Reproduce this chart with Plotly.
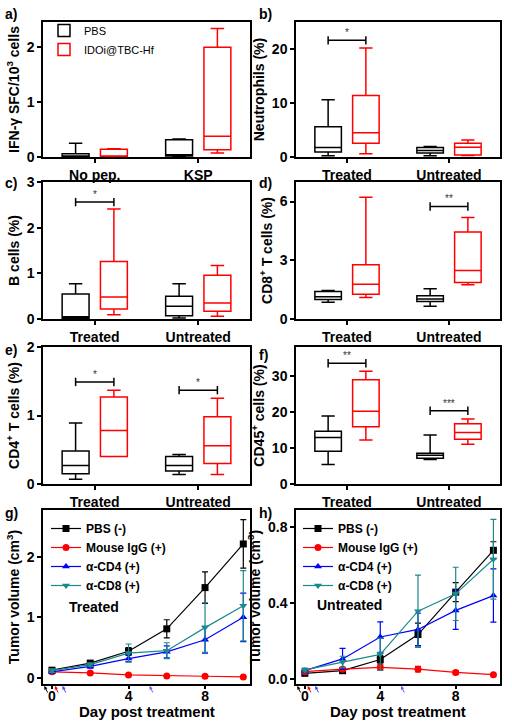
import plotly.graph_objects as go

W, H = 512, 723

# ---------------- data ----------------
groups_a = ["No pep.", "KSP"]
groups_tu = ["Treated", "Untreated"]
series_names = ["PBS", "IDOi@TBC-Hf"]

# box stats per group: [lower whisker, q1, median, q3, upper whisker]
a_pbs = [[0.0, 0.0, 0.0, 0.06, 0.25], [0.0, 0.02, 0.04, 0.315, 0.327]]
a_ido = [[0.0, 0.0, 0.0, 0.14, 0.15], [0.073, 0.133, 0.376, 1.99, 2.33]]

b_pbs = [[0.24, 0.91, 1.76, 5.6, 10.6], [0.24, 0.73, 1.2, 1.76, 1.95]]
b_ido = [[0.6, 2.55, 4.5, 11.4, 20.2], [0.3, 0.36, 1.82, 2.55, 3.16]]

c_pbs = [[0.0, 0.015, 0.05, 0.55, 0.77], [0.02, 0.07, 0.28, 0.5, 0.77]]
c_ido = [[0.095, 0.22, 0.48, 1.26, 2.41], [0.06, 0.17, 0.35, 0.96, 1.17]]

d_pbs = [[0.85, 0.99, 1.14, 1.41, 1.46], [0.65, 0.9, 1.02, 1.19, 1.55]]
d_ido = [[1.1, 1.27, 1.78, 2.77, 6.22], [1.75, 1.87, 2.48, 4.45, 5.18]]

e_pbs = [[0.07, 0.15, 0.27, 0.48, 0.89], [0.14, 0.19, 0.27, 0.4, 0.43]]
e_ido = [[0.4, 0.4, 0.78, 1.27, 1.37], [0.14, 0.3, 0.56, 0.98, 1.25]]

f_pbs = [[5.4, 9.1, 12.9, 14.6, 18.85], [6.8, 7.15, 8.0, 8.5, 13.6]]
f_ido = [[12.2, 15.9, 20.2, 28.9, 31.3], [11.0, 12.4, 14.3, 16.7, 18.0]]

# significance marks: (panel, group index, bracket level, text)
sig_panel = ["b", "c", "d", "e", "e", "f", "f"]
sig_group = [0, 0, 1, 0, 1, 0, 1]
sig_level = [21.6, 2.56, 5.75, 1.49, 1.37, 33.5, 20.3]
sig_text = ["*", "*", "**", "*", "*", "**", "***"]

# tumour growth
days = [0, 2, 4, 6, 8, 10]
line_names = ["PBS (-)", "Mouse IgG (+)", "α-CD4 (+)", "α-CD8 (+)"]

g_pbs = [0.128, 0.245, 0.44, 0.81, 1.49, 2.21]
g_pbs_err = [0.02, 0.02, 0.06, 0.15, 0.26, 0.40]
g_igg = [0.10, 0.083, 0.05, 0.033, 0.028, 0.017]
g_igg_err = [0.01, 0.01, 0.01, 0.01, 0.01, 0.005]
g_cd4 = [0.10, 0.19, 0.32, 0.43, 0.63, 1.0]
g_cd4_err = [0.02, 0.03, 0.05, 0.10, 0.22, 0.40]
g_cd8 = [0.12, 0.22, 0.41, 0.45, 0.83, 1.19]
g_cd8_err = [0.03, 0.03, 0.15, 0.13, 0.41, 0.58]

h_pbs = [0.031, 0.045, 0.104, 0.235, 0.458, 0.678]
h_pbs_err = [0.005, 0.008, 0.02, 0.06, 0.05, 0.045]
h_igg = [0.04, 0.053, 0.062, 0.053, 0.036, 0.024]
h_igg_err = [0.008, 0.01, 0.015, 0.015, 0.01, 0.005]
h_cd4 = [0.045, 0.107, 0.222, 0.262, 0.362, 0.44]
h_cd4_err = [0.01, 0.055, 0.08, 0.085, 0.10, 0.14]
h_cd8 = [0.049, 0.091, 0.131, 0.358, 0.449, 0.631]
h_cd8_err = [0.01, 0.03, 0.085, 0.19, 0.14, 0.21]

# treatment arrows (days) and colours
arrow_days = [-0.4, 0.15, 0.55, 5.1]
arrow_cols = ["black", "red", "#4040ff", "#6060ff"]

# ---------------- style ----------------
FONT = "Liberation Sans"
BLACK, RED, BLUE, TEAL = "black", "#ff0000", "#0000ff", "#1b8a8a"

def px_x(p):
    return p / W

def px_y(p):
    return 1 - p / H

LEFT = [px_x(43), px_x(250)]
RIGHT = [px_x(296), px_x(500)]
ROWS = [
    [px_y(157), px_y(22)],
    [px_y(319), px_y(182)],
    [px_y(484), px_y(347)],
    [px_y(684), px_y(510)],
]

fig = go.Figure()

OFF = 0.185
BW = 0.26

box_panels = [
    ("a", 1, groups_a, a_pbs, a_ido, [0, 2.45], [0, 1, 2], "IFN-γ SFC/10<sup>3</sup> cells"),
    ("b", 2, groups_tu, b_pbs, b_ido, [0, 25], [0, 10, 20], "Neutrophils (%)"),
    ("c", 3, groups_tu, c_pbs, c_ido, [0, 3], [0, 1, 2, 3], "B cells (%)"),
    ("d", 4, groups_tu, d_pbs, d_ido, [0, 7], [0, 3, 6], "CD8<sup>+</sup> T cells (%)"),
    ("e", 5, groups_tu, e_pbs, e_ido, [0, 2], [0, 1, 2], "CD4<sup>+</sup> T cells (%)"),
    ("f", 6, groups_tu, f_pbs, f_ido, [0, 38], [0, 10, 20, 30], "CD45<sup>+</sup> cells (%)"),
]

axis_common = dict(
    showline=True, mirror=True, linecolor="black", linewidth=1.5,
    ticks="outside", ticklen=4, tickwidth=1.5, tickcolor="black",
    showgrid=False, zeroline=False, automargin=False,
    tickfont=dict(family=FONT, size=14, color="black", weight="bold"),
)

layout = dict(
    width=W, height=H, margin=dict(l=0, r=0, t=0, b=0, autoexpand=False),
    paper_bgcolor="white", plot_bgcolor="white",
    showlegend=True,
)
annotations = []

def axname(i, kind):
    return kind + ("" if i == 1 else str(i))

for label, i, cats, pbs, ido, yr, yt, ytitle in box_panels:
    xa, ya = "x" + ("" if i == 1 else str(i)), "y" + ("" if i == 1 else str(i))
    col = LEFT if i % 2 == 1 else RIGHT
    row = ROWS[(i - 1) // 2]
    for stats, name, color, sgn in [(pbs, series_names[0], BLACK, -1), (ido, series_names[1], RED, 1)]:
        fig.add_trace(go.Box(
            x=[k + sgn * OFF for k in range(len(cats))],
            lowerfence=[s[0] for s in stats],
            q1=[s[1] for s in stats],
            median=[s[2] for s in stats],
            q3=[s[3] for s in stats],
            upperfence=[s[4] for s in stats],
            width=BW, whiskerwidth=0.5,
            line=dict(color=color, width=1.5),
            fillcolor="rgba(0,0,0,0)",
            boxpoints=False, name=name,
            showlegend=(label == "a"), legend="legend",
            xaxis=xa, yaxis=ya,
        ))
    layout[axname(i, "xaxis")] = dict(
        axis_common, domain=col, anchor=ya, range=[-0.5, 1.5],
        tickvals=list(range(len(cats))), ticktext=cats,
    )
    layout[axname(i, "yaxis")] = dict(
        axis_common, domain=row, anchor=xa, range=yr, tickvals=yt,
        title=dict(text=ytitle, font=dict(family=FONT, size=14, color="black", weight="bold"), standoff=4),
    )

# significance brackets
panel_index = {"a": 1, "b": 2, "c": 3, "d": 4, "e": 5, "f": 6}
for p, g, lv, t in zip(sig_panel, sig_group, sig_level, sig_text):
    i = panel_index[p]
    xa, ya = "x" + str(i), "y" + str(i)
    fig.add_trace(go.Scatter(
        x=[g - OFF, g + OFF], y=[lv, lv], mode="lines+markers",
        line=dict(color="black", width=1.5),
        marker=dict(symbol="line-ns", size=6, line=dict(color="black", width=1.5)),
        showlegend=False, xaxis=xa, yaxis=ya, hoverinfo="skip",
    ))
    annotations.append(dict(
        x=g, y=lv, xref=xa, yref=ya, text=t, showarrow=False,
        yanchor="bottom", yshift=0, font=dict(family=FONT, size=10, color="#333333"),
    ))

# line panels
line_panels = [
    (7, LEFT, [g_pbs, g_igg, g_cd4, g_cd8], [g_pbs_err, g_igg_err, g_cd4_err, g_cd8_err],
     [-0.1, 2.77], [0, 1, 2], None, "legend2", "Treated", (0.117, 0.443)),
    (8, RIGHT, [h_pbs, h_igg, h_cd4, h_cd8], [h_pbs_err, h_igg_err, h_cd4_err, h_cd8_err],
     [-0.025, 0.89], [0, 0.4, 0.8], ["0.0", "0.4", "0.8"], "legend3", "Untreated", (0.093, 0.454)),
]
line_cols = [BLACK, RED, BLUE, TEAL]
line_syms = ["square", "circle", "triangle-up", "triangle-down"]

for i, col, vals, errs, yr, yt, ytt, leg, tag, tagpos in line_panels:
    xa, ya = "x" + str(i), "y" + str(i)
    for name, v, e, c, s in zip(line_names, vals, errs, line_cols, line_syms):
        fig.add_trace(go.Scatter(
            x=days, y=v, name=name, mode="lines+markers",
            line=dict(color=c, width=1.2),
            marker=dict(symbol=s, size=7, color=c),
            error_y=dict(type="data", array=e, visible=True, color=c, thickness=1.2, width=3),
            legend=leg, xaxis=xa, yaxis=ya,
        ))
    ydict = dict(
        axis_common, domain=ROWS[3], anchor=xa, range=yr, tickvals=yt,
        title=dict(text="Tumor volume (cm<sup>3</sup>)", font=dict(family=FONT, size=14, color="black", weight="bold"), standoff=4),
    )
    if ytt:
        ydict["ticktext"] = ytt
    layout[axname(i, "yaxis")] = ydict
    layout[axname(i, "xaxis")] = dict(
        axis_common, domain=col, anchor=ya, range=[-0.47, 10.35], tickvals=[0, 4, 8],
        ticklen=3, ticklabelstandoff=-5,
    )
    # x-axis title placed precisely
    annotations.append(dict(
        x=0.5, y=px_y(711), xref=xa + " domain", yref="paper",
        text="Day post treatment", showarrow=False, xanchor="center", yanchor="middle",
        font=dict(family=FONT, size=15, color="black", weight="bold"),
    ))
    annotations.append(dict(
        x=tagpos[0], y=tagpos[1], xref=xa + " domain", yref=ya + " domain",
        text=tag, showarrow=False, xanchor="left", yanchor="middle",
        font=dict(family=FONT, size=14, color="black", weight="bold"),
    ))
    # treatment arrows
    for d, c in zip(arrow_days, arrow_cols):
        annotations.append(dict(
            x=d, y=px_y(686), xref=xa, yref="paper", text="", showarrow=True,
            ax=4, ay=8, arrowhead=2, arrowsize=0.7, arrowwidth=1, arrowcolor=c,
        ))

# legends
layout["legend"] = dict(
    x=px_x(44), y=px_y(16), xanchor="left", yanchor="top",
    bgcolor="rgba(0,0,0,0)", borderwidth=0, tracegroupgap=0,
    font=dict(family=FONT, size=11, color="black"), itemwidth=30,
)
for key, xl in [("legend2", 46), ("legend3", 298)]:
    layout[key] = dict(
        x=px_x(xl), y=px_y(514), xanchor="left", yanchor="top",
        bgcolor="rgba(0,0,0,0)", borderwidth=0, tracegroupgap=0,
        font=dict(family=FONT, size=12, color="black", weight="bold"), itemwidth=30,
    )

# panel labels
panel_labels = ["a)", "b)", "c)", "d)", "e)", "f)", "g)", "h)"]
label_pos = [(3, 14), (257, 14), (3, 183), (257, 183), (3, 350), (257, 355), (3, 513), (257, 513)]
for t, (lx, ly) in zip(panel_labels, label_pos):
    annotations.append(dict(
        x=px_x(lx), y=px_y(ly), xref="paper", yref="paper", text=t, showarrow=False,
        xanchor="left", yanchor="middle",
        font=dict(family=FONT, size=14, color="black", weight="bold"),
    ))

layout["annotations"] = annotations
fig.update_layout(**layout)
fig.write_html(
    "out.html",
    config={"displayModeBar": False},
    post_script="document.body.style.margin='0';document.body.style.overflow='hidden';",
)
